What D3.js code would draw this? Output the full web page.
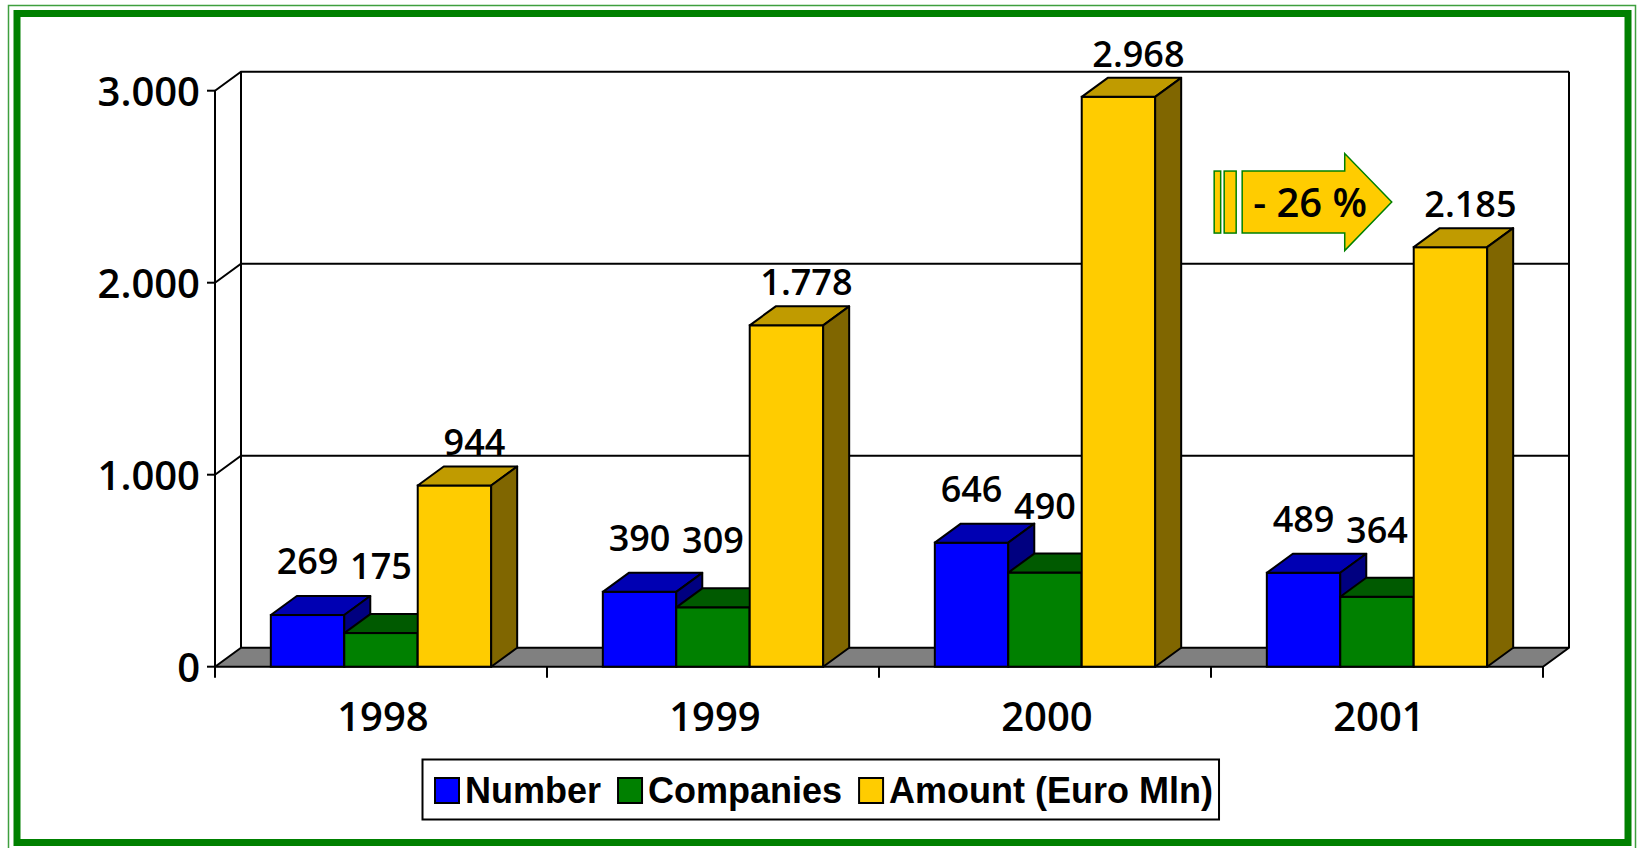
<!DOCTYPE html>
<html>
<head>
<meta charset="utf-8">
<script src="https://cdn.jsdelivr.net/npm/d3@7"></script>
<style>
  body { margin: 0; background: #fff; }
  svg { display: block; }
  .tick-label, .year-label, .value-label { font-family: "Open Sans", sans-serif; font-weight: 650; fill: #000; }
  .legend-text { font-family: "Liberation Sans", Arial, sans-serif; font-weight: bold; fill: #000; }
</style>
</head>
<body>
<svg id="chart" width="1641" height="848"></svg>
<script>
// data
var categories = ["1998", "1999", "2000", "2001"];
var seriesNames = ["Number", "Companies", "Amount (Euro Mln)"];
var numberValues = [269, 390, 646, 489];
var companiesValues = [175, 309, 490, 364];
var amountValues = [944, 1778, 2968, 2185];
var yTickValues = [0, 1000, 2000, 3000];

var width = 1641;
var height = 848;

// 3D depth of walls and bars
var depthX = 26;
var depthY = -19;

// colours per series: front / top / side
var seriesColors = [
    { front: "#0000ff", top: "#0000b3", side: "#000080", labelShift: 0, labelLift: 22 },
    { front: "#008000", top: "#005a00", side: "#004000", labelShift: 0, labelLift: 35 },
    { front: "#ffcc00", top: "#c09b00", side: "#806600", labelShift: 20, labelLift: 11 }
];
var seriesValues = [numberValues, companiesValues, amountValues];

var svg = d3.select("#chart");

// euro style numbers: 2.968
var locale = d3.formatLocale({ decimal: ",", thousands: ".", grouping: [3], currency: ["", "€"] });
var fmt = locale.format(",");

// frame
svg.append("rect")
    .attr("x", 8.5).attr("y", 5.5)
    .attr("width", 1627).attr("height", 850)
    .attr("fill", "none").attr("stroke", "#3f9f3f").attr("stroke-width", 1.5);
svg.append("rect")
    .attr("x", 17).attr("y", 13.5)
    .attr("width", 1611).attr("height", 829)
    .attr("fill", "#fff").attr("stroke", "#008000").attr("stroke-width", 7);

// scales (front plane)
var x0 = d3.scaleBand()
    .domain(categories)
    .range([215, 1543])
    .paddingInner(0)
    .paddingOuter(0);

var x1 = d3.scaleBand()
    .domain(d3.range(seriesNames.length))
    .range([0, x0.bandwidth()])
    .paddingInner(0)
    .paddingOuter(0.76);

var y = d3.scaleLinear()
    .domain([0, 3000])
    .range([666.7, 90.7]);

var plotLeft = x0.range()[0];
var plotRight = x0.range()[1];
var base = y(0);
var top3000 = y(3000);

// back wall + side wall (white)
var walls = svg.append("g");
walls.append("polygon")
    .attr("points", [
        [plotLeft, base], [plotLeft, top3000], [plotLeft + depthX, top3000 + depthY],
        [plotRight + depthX, top3000 + depthY], [plotRight + depthX, base + depthY]
    ].join(" "))
    .attr("fill", "#fff").attr("stroke", "none");

// gridlines: diagonal on side wall + horizontal on back wall
yTickValues.filter(function(d) { return d > 0; }).forEach(function(v) {
    walls.append("path")
        .attr("d", "M" + plotLeft + "," + y(v) + "L" + (plotLeft + depthX) + "," + (y(v) + depthY) +
                   "L" + (plotRight + depthX) + "," + (y(v) + depthY))
        .attr("fill", "none").attr("stroke", "#000").attr("stroke-width", 2);
});
// back wall verticals
walls.append("line")
    .attr("x1", plotLeft + depthX).attr("x2", plotLeft + depthX)
    .attr("y1", top3000 + depthY).attr("y2", base + depthY)
    .attr("stroke", "#000").attr("stroke-width", 2);
walls.append("line")
    .attr("x1", plotRight + depthX).attr("x2", plotRight + depthX)
    .attr("y1", top3000 + depthY).attr("y2", base + depthY)
    .attr("stroke", "#000").attr("stroke-width", 2);

// floor
svg.append("polygon")
    .attr("points", [
        [plotLeft, base], [plotRight, base],
        [plotRight + depthX, base + depthY], [plotLeft + depthX, base + depthY]
    ].join(" "))
    .attr("fill", "#808080").attr("stroke", "#000").attr("stroke-width", 2)
    .attr("stroke-linejoin", "round");

// front value axis
var yAxisG = svg.append("g");
yAxisG.append("line")
    .attr("x1", plotLeft).attr("x2", plotLeft)
    .attr("y1", top3000).attr("y2", base)
    .attr("stroke", "#000").attr("stroke-width", 2);
yAxisG.selectAll("line.tick")
    .data(yTickValues)
    .enter().append("line")
    .attr("class", "tick")
    .attr("x1", plotLeft - 8).attr("x2", plotLeft)
    .attr("y1", function(d) { return y(d); })
    .attr("y2", function(d) { return y(d); })
    .attr("stroke", "#000").attr("stroke-width", 2);
yAxisG.selectAll("text")
    .data(yTickValues)
    .enter().append("text")
    .attr("class", "tick-label")
    .attr("x", plotLeft - 15)
    .attr("y", function(d) { return y(d) + 15; })
    .attr("text-anchor", "end")
    .style("font-size", "40px")
    .text(function(d) { return fmt(d); });

// category axis ticks + labels
var xTicks = categories.map(function(c) { return x0(c); }).concat([plotRight]);
svg.append("g").selectAll("line")
    .data(xTicks)
    .enter().append("line")
    .attr("x1", function(d) { return d; })
    .attr("x2", function(d) { return d; })
    .attr("y1", base).attr("y2", base + 11)
    .attr("stroke", "#000").attr("stroke-width", 2);
svg.append("g").selectAll("text")
    .data(categories)
    .enter().append("text")
    .attr("class", "year-label")
    .attr("x", function(d) { return x0(d) + x0.bandwidth() / 2 + 2; })
    .attr("y", 730.5)
    .attr("text-anchor", "middle")
    .style("font-size", "40px")
    .text(function(d) { return d; });

// 3D bars
var bars = [];
categories.forEach(function(cat, ci) {
    seriesValues.forEach(function(vals, si) {
        bars.push({ cat: cat, s: si, value: vals[ci] });
    });
});

var barG = svg.append("g").selectAll("g")
    .data(bars)
    .enter().append("g");

function barX(d) { return x0(d.cat) + x1(d.s); }

barG.append("rect")
    .attr("x", barX)
    .attr("y", function(d) { return y(d.value); })
    .attr("width", x1.bandwidth())
    .attr("height", function(d) { return base - y(d.value); })
    .attr("fill", function(d) { return seriesColors[d.s].front; })
    .attr("stroke", "#000").attr("stroke-width", 2);

barG.append("polygon")
    .attr("points", function(d) {
        var x = barX(d), w = x1.bandwidth(), t = y(d.value);
        return [[x, t], [x + depthX, t + depthY], [x + w + depthX, t + depthY], [x + w, t]].join(" ");
    })
    .attr("fill", function(d) { return seriesColors[d.s].top; })
    .attr("stroke", "#000").attr("stroke-width", 2).attr("stroke-linejoin", "round");

barG.append("polygon")
    .attr("points", function(d) {
        var x = barX(d) + x1.bandwidth(), t = y(d.value);
        return [[x, t], [x + depthX, t + depthY], [x + depthX, base + depthY], [x, base]].join(" ");
    })
    .attr("fill", function(d) { return seriesColors[d.s].side; })
    .attr("stroke", "#000").attr("stroke-width", 2).attr("stroke-linejoin", "round");

// value labels
svg.append("g").selectAll("text")
    .data(bars)
    .enter().append("text")
    .attr("class", "value-label")
    .attr("x", function(d) { return barX(d) + x1.bandwidth() / 2 + seriesColors[d.s].labelShift; })
    .attr("y", function(d) { return y(d.value) + depthY - seriesColors[d.s].labelLift; })
    .attr("text-anchor", "middle")
    .style("font-size", "36px")
    .text(function(d) { return fmt(d.value); });

// change arrow between 2000 and 2001 amounts
var amountIdx = 2;
var fromX = x0(categories[2]) + x1(amountIdx) + x1.bandwidth() + depthX;
var toX = x0(categories[3]) + x1(amountIdx);
var change = (amountValues[3] - amountValues[2]) / amountValues[2];
var arrowLeft = fromX + 33;
var arrowTip = toX - 22;
var arrowCy = y(2420);
var bodyH = 62, headH = 97, headLen = 47;
var arrowG = svg.append("g");
arrowG.append("rect")
    .attr("x", arrowLeft).attr("y", arrowCy - bodyH / 2)
    .attr("width", 6.5).attr("height", bodyH)
    .attr("fill", "#ffcc00").attr("stroke", "#008000").attr("stroke-width", 1.5);
arrowG.append("rect")
    .attr("x", arrowLeft + 10).attr("y", arrowCy - bodyH / 2)
    .attr("width", 12).attr("height", bodyH)
    .attr("fill", "#ffcc00").attr("stroke", "#008000").attr("stroke-width", 1.5);
var bodyLeft = arrowLeft + 28;
arrowG.append("polygon")
    .attr("points", [
        [bodyLeft, arrowCy - bodyH / 2], [arrowTip - headLen, arrowCy - bodyH / 2],
        [arrowTip - headLen, arrowCy - headH / 2], [arrowTip, arrowCy],
        [arrowTip - headLen, arrowCy + headH / 2], [arrowTip - headLen, arrowCy + bodyH / 2],
        [bodyLeft, arrowCy + bodyH / 2]
    ].join(" "))
    .attr("fill", "#ffcc00").attr("stroke", "#008000").attr("stroke-width", 1.5);
arrowG.append("text")
    .attr("class", "value-label")
    .attr("x", bodyLeft + 11)
    .attr("y", arrowCy + 15)
    .style("font-size", "40px")
    .text("- " + Math.round(Math.abs(change) * 100) + " %");

// legend
var legendG = svg.append("g");
var legendBox = legendG.append("rect")
    .attr("fill", "#fff").attr("stroke", "#000").attr("stroke-width", 2);
var lx = 435;
var swatchY = 778, swatch = 24;
seriesNames.forEach(function(name, i) {
    legendG.append("rect")
        .attr("x", lx).attr("y", swatchY)
        .attr("width", swatch).attr("height", swatch + 1)
        .attr("fill", seriesColors[i].front)
        .attr("stroke", "#000").attr("stroke-width", 2);
    var t = legendG.append("text")
        .attr("class", "legend-text")
        .attr("x", lx + swatch + 6)
        .attr("y", 803)
        .style("font-size", "36px")
        .text(name);
    lx = lx + swatch + 6 + t.node().getComputedTextLength() + 17;
});
legendBox
    .attr("x", 422.5).attr("y", 759.5)
    .attr("width", lx - 11 - 422.5).attr("height", 60);
</script>
</body>
</html>
